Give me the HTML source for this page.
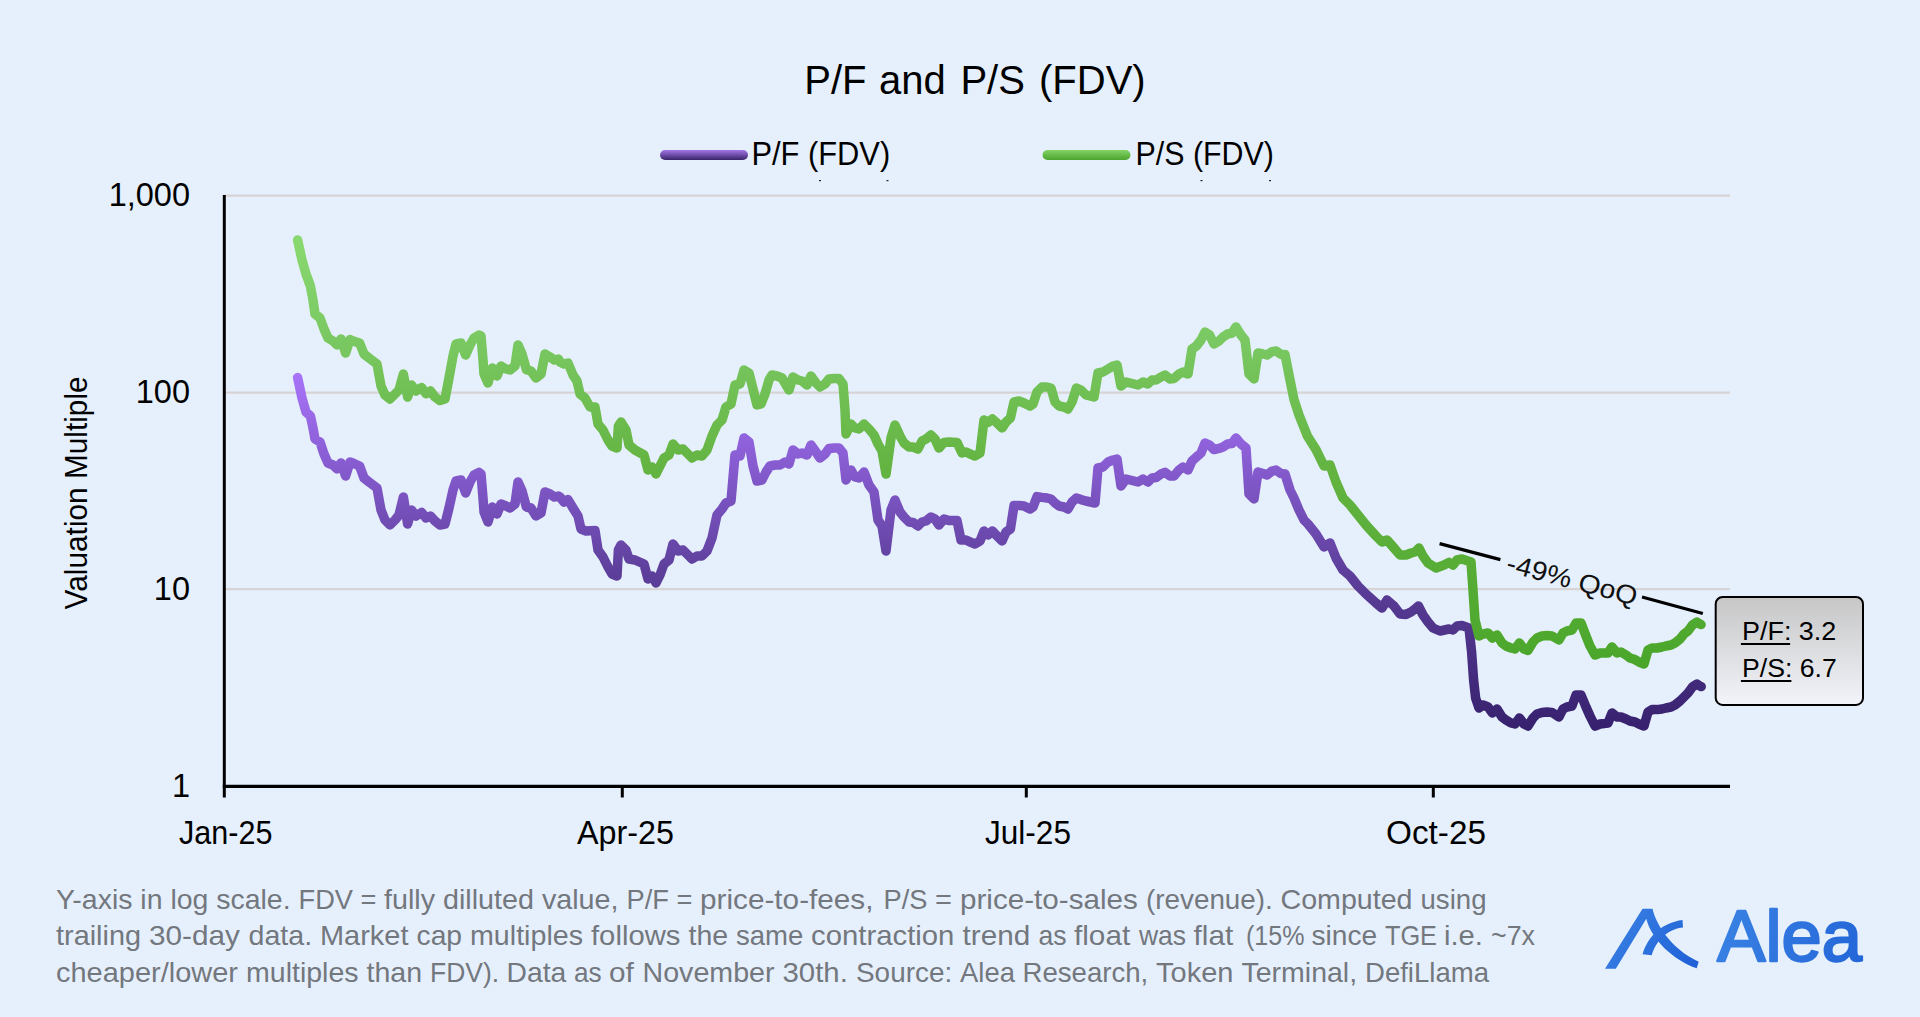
<!DOCTYPE html>
<html lang="en"><head><meta charset="utf-8"><title>P/F and P/S (FDV)</title>
<style>
html,body{margin:0;padding:0;background:#e6f0fc;}
body{width:1920px;height:1017px;overflow:hidden;}
svg{display:block;}
text{font-family:"Liberation Sans", sans-serif;}
</style></head><body>
<svg width="1920" height="1017" viewBox="0 0 1920 1017">
<defs>
<linearGradient id="gp" gradientUnits="userSpaceOnUse" x1="0" y1="373" x2="0" y2="733"><stop offset="0" stop-color="#a874f8"/><stop offset="0.186" stop-color="#9062dc"/><stop offset="0.547" stop-color="#5e409c"/><stop offset="1" stop-color="#36206c"/></linearGradient>
<linearGradient id="gg" gradientUnits="userSpaceOnUse" x1="0" y1="236" x2="0" y2="668"><stop offset="0" stop-color="#8ad870"/><stop offset="0.24" stop-color="#7ac862"/><stop offset="0.532" stop-color="#64b442"/><stop offset="0.935" stop-color="#4ea82e"/><stop offset="1" stop-color="#4aa52b"/></linearGradient>
<linearGradient id="lp" gradientUnits="userSpaceOnUse" x1="0" y1="150" x2="0" y2="160"><stop offset="0" stop-color="#a476e6"/><stop offset="1" stop-color="#38246a"/></linearGradient>
<linearGradient id="lg" gradientUnits="userSpaceOnUse" x1="0" y1="150" x2="0" y2="160"><stop offset="0" stop-color="#84d466"/><stop offset="1" stop-color="#4ca42e"/></linearGradient>
<linearGradient id="box" x1="0" y1="0" x2="0" y2="1"><stop offset="0" stop-color="#c6c6c6"/><stop offset="1" stop-color="#f2f4fa"/></linearGradient>
<linearGradient id="logo1" gradientUnits="userSpaceOnUse" x1="1610" y1="910" x2="1698" y2="966"><stop offset="0" stop-color="#3a82e4"/><stop offset="1" stop-color="#1f60d6"/></linearGradient>
<linearGradient id="logo" gradientUnits="userSpaceOnUse" x1="1716" y1="915" x2="1863" y2="960"><stop offset="0" stop-color="#3a82e4"/><stop offset="1" stop-color="#2366d8"/></linearGradient>
</defs>
<rect width="1920" height="1017" fill="#e6f0fc"/>

<text x="804.3" y="94.3" font-size="40" fill="#000">P/F</text>
<text x="878.9" y="94.3" font-size="40" fill="#000">and</text>
<text x="960.4" y="94.3" font-size="40" fill="#000">P/S</text>
<text x="1039" y="94.3" font-size="40" fill="#000">(FDV)</text>
<line x1="665" y1="155" x2="743" y2="155" stroke="url(#lp)" stroke-width="10" stroke-linecap="round"/>
<line x1="1047.5" y1="155" x2="1125.5" y2="155" stroke="url(#lg)" stroke-width="10" stroke-linecap="round"/>
<text x="751.4" y="164.5" font-size="33" fill="#000" textLength="138.8" lengthAdjust="spacingAndGlyphs">P/F (FDV)</text>
<text x="1135.6" y="164.5" font-size="33" fill="#000" textLength="138.3" lengthAdjust="spacingAndGlyphs">P/S (FDV)</text>
<rect x="819" y="180" width="2" height="1.2" fill="#222"/>
<rect x="886.5" y="180" width="2" height="1.2" fill="#222"/>
<rect x="1200.5" y="180" width="2" height="1.2" fill="#222"/>
<rect x="1269" y="180" width="2" height="1.2" fill="#222"/>
<line x1="224.3" y1="195.7" x2="1730" y2="195.7" stroke="#d7d4d5" stroke-width="2.2"/>
<line x1="224.3" y1="392.6" x2="1730" y2="392.6" stroke="#d7d4d5" stroke-width="2.2"/>
<line x1="224.3" y1="589.2" x2="1730" y2="589.2" stroke="#d7d4d5" stroke-width="2.2"/>
<text x="190" y="206" font-size="32.5" text-anchor="end" fill="#000">1,000</text>
<text x="190" y="403" font-size="32.5" text-anchor="end" fill="#000">100</text>
<text x="190" y="600" font-size="32.5" text-anchor="end" fill="#000">10</text>
<text x="190" y="797" font-size="32.5" text-anchor="end" fill="#000">1</text>
<text transform="translate(86.8 609.4) rotate(-90)" font-size="31" fill="#000" textLength="233" lengthAdjust="spacingAndGlyphs">Valuation Multiple</text>
<path d="M297.6 377.6 L302.0 398.0 L306.0 412.0 L310.4 416.0 L313.0 428.0 L315.0 439.0 L320.0 442.0 L324.0 454.0 L328.0 463.0 L333.0 465.0 L337.0 469.0 L341.0 463.0 L345.6 476.0 L350.0 462.0 L355.0 464.0 L359.6 466.0 L364.0 478.0 L369.0 482.0 L377.0 488.0 L381.0 510.0 L385.0 520.0 L390.0 525.0 L395.0 520.0 L399.0 515.0 L403.4 497.0 L407.6 524.0 L411.6 510.0 L416.0 516.0 L421.6 512.4 L426.0 518.0 L430.4 516.0 L435.0 521.0 L440.0 525.0 L445.0 524.0 L449.0 508.0 L453.0 490.0 L456.0 481.0 L461.0 480.0 L465.6 493.0 L470.0 482.0 L474.0 475.0 L479.0 472.4 L481.0 474.0 L483.0 498.0 L484.0 512.0 L488.0 522.0 L492.4 507.0 L497.0 514.0 L501.0 504.0 L506.0 506.0 L510.0 508.0 L515.0 504.0 L518.0 482.0 L522.0 491.0 L526.4 507.0 L531.0 508.0 L536.0 516.0 L541.0 513.0 L545.0 492.0 L550.0 494.0 L554.4 497.0 L558.4 496.0 L560.0 497.0 L564.0 502.0 L568.0 499.6 L573.0 508.0 L578.0 516.0 L581.0 529.0 L586.0 531.0 L595.0 530.6 L598.0 550.0 L603.0 557.0 L608.0 567.0 L612.0 574.0 L617.0 576.0 L618.4 550.0 L621.0 545.0 L626.0 550.0 L629.0 559.0 L635.0 560.0 L644.0 564.0 L648.0 579.0 L652.0 576.0 L656.0 583.0 L660.0 575.0 L664.0 564.0 L669.0 560.0 L673.0 544.0 L678.0 551.0 L683.0 550.0 L688.0 555.0 L692.0 559.0 L697.0 556.0 L702.0 556.0 L707.0 551.0 L712.0 538.0 L717.0 515.0 L722.0 509.0 L726.0 503.0 L731.0 501.0 L735.0 455.0 L740.0 456.0 L744.0 438.0 L749.0 442.0 L753.0 466.0 L757.0 481.0 L762.0 480.0 L766.0 472.0 L770.0 466.0 L775.0 465.0 L780.0 465.0 L785.0 462.0 L789.0 464.0 L793.0 450.0 L798.0 454.0 L802.0 453.0 L807.0 455.0 L811.0 445.0 L816.0 452.0 L820.0 458.0 L825.0 454.0 L829.0 448.4 L834.0 448.0 L839.0 448.0 L843.0 453.0 L846.0 480.0 L851.0 470.0 L855.0 477.0 L859.0 478.0 L864.0 472.0 L869.0 485.0 L874.0 492.0 L878.0 520.0 L882.0 526.0 L886.0 551.0 L891.0 510.0 L895.0 500.0 L900.0 512.0 L904.0 517.0 L909.0 522.0 L913.0 522.4 L918.0 526.0 L922.0 522.0 L926.0 521.0 L931.0 517.0 L935.0 519.0 L939.0 525.0 L944.0 519.0 L949.0 520.6 L957.0 520.6 L961.0 540.0 L966.0 540.0 L971.0 542.4 L975.0 544.0 L980.0 541.0 L984.0 531.0 L988.0 535.0 L992.4 531.0 L997.0 536.0 L1002.0 541.0 L1006.0 532.0 L1010.4 529.0 L1014.0 505.6 L1019.0 505.4 L1024.0 506.0 L1030.0 509.0 L1033.0 507.0 L1037.0 496.6 L1042.0 497.4 L1047.0 498.0 L1051.0 499.0 L1055.0 503.0 L1059.0 506.0 L1064.0 507.0 L1068.0 509.0 L1072.0 502.0 L1076.4 498.0 L1081.0 499.6 L1086.0 501.0 L1095.0 503.0 L1098.0 468.0 L1103.0 467.0 L1108.0 462.0 L1113.0 460.0 L1117.0 459.0 L1121.0 486.0 L1126.0 479.0 L1130.0 480.0 L1138.0 482.0 L1143.0 479.0 L1148.0 482.0 L1152.0 478.0 L1156.0 477.6 L1161.0 474.0 L1165.0 472.4 L1170.0 476.0 L1174.0 476.0 L1179.0 470.0 L1183.0 467.0 L1188.0 470.0 L1192.0 461.0 L1196.4 457.0 L1201.0 453.0 L1205.0 443.0 L1209.6 445.0 L1214.0 449.6 L1219.0 448.4 L1223.0 447.0 L1227.6 444.0 L1232.0 443.6 L1236.0 438.0 L1241.0 444.0 L1246.0 448.0 L1249.0 494.0 L1254.0 499.0 L1258.0 472.0 L1263.0 473.6 L1267.0 475.0 L1272.0 471.0 L1276.0 470.0 L1281.0 473.6 L1285.0 474.0 L1290.0 490.0 L1294.0 498.0 L1299.0 510.0 L1304.0 520.0 L1308.0 524.0 L1316.0 534.0 L1324.0 547.0 L1330.0 543.0 L1336.0 558.0 L1343.0 570.0 L1350.0 576.0 L1358.0 586.0 L1366.0 594.0 L1376.0 603.0 L1382.0 608.0 L1387.0 600.0 L1394.0 606.0 L1400.0 614.0 L1406.0 614.4 L1411.0 612.0 L1415.0 609.0 L1418.4 606.0 L1423.0 615.0 L1428.0 622.0 L1433.0 628.0 L1440.0 631.0 L1449.0 629.0 L1453.0 630.0 L1457.0 626.0 L1462.0 625.6 L1469.0 628.0 L1471.6 652.0 L1473.6 680.0 L1475.6 698.0 L1479.0 708.0 L1483.0 705.0 L1488.0 707.0 L1492.4 713.0 L1497.0 709.0 L1502.0 717.0 L1506.0 720.0 L1511.0 723.0 L1515.0 724.0 L1519.4 718.0 L1524.0 724.0 L1528.0 726.0 L1533.0 718.0 L1537.0 714.0 L1542.0 712.4 L1547.0 712.0 L1552.0 712.4 L1559.0 717.0 L1563.0 709.0 L1567.0 707.0 L1572.0 706.0 L1576.0 695.0 L1581.0 695.0 L1586.0 707.0 L1590.0 716.0 L1595.0 726.0 L1600.0 724.0 L1608.0 723.0 L1612.0 713.0 L1617.0 717.0 L1621.0 717.0 L1626.0 719.0 L1630.0 721.0 L1635.0 722.0 L1639.0 724.0 L1644.0 726.0 L1648.0 712.0 L1652.0 709.6 L1657.0 709.6 L1662.0 709.0 L1666.0 708.0 L1671.0 707.0 L1675.0 705.0 L1680.0 701.0 L1684.0 697.0 L1688.0 693.0 L1692.4 687.0 L1697.0 684.0 L1699.8 686.0 L1701.2 686.6" fill="none" stroke="url(#gp)" stroke-width="9.5" stroke-linecap="round" stroke-linejoin="round"/>
<path d="M297.6 240.0 L302.0 260.0 L306.0 274.0 L310.4 286.0 L313.0 300.0 L315.0 314.0 L320.0 318.0 L324.0 329.0 L328.0 338.0 L333.0 341.0 L337.0 345.0 L341.0 339.0 L345.6 353.0 L350.0 339.6 L355.0 341.6 L359.6 343.0 L364.0 354.0 L369.0 358.0 L377.0 364.0 L381.0 386.0 L385.0 395.0 L390.0 399.0 L395.0 394.0 L399.0 390.0 L403.4 374.0 L407.6 397.0 L411.6 385.0 L416.0 391.0 L421.6 387.6 L426.0 393.6 L430.4 391.0 L435.0 397.0 L440.0 400.6 L445.0 399.0 L449.0 378.0 L453.0 356.0 L456.0 344.0 L461.0 343.0 L465.6 355.0 L470.0 345.0 L474.0 338.0 L479.0 335.0 L481.0 336.0 L483.0 360.0 L484.0 374.0 L488.0 383.0 L492.4 368.0 L497.0 376.0 L501.0 366.0 L506.0 369.0 L510.0 370.0 L515.0 366.0 L518.0 345.0 L522.0 354.0 L526.4 369.6 L531.0 371.0 L536.0 378.0 L541.0 374.0 L545.0 354.0 L550.0 357.0 L554.4 360.0 L558.4 359.0 L560.0 362.0 L564.0 364.0 L568.0 363.0 L573.0 375.0 L577.0 381.0 L580.0 394.0 L585.0 398.0 L590.0 407.0 L595.0 407.0 L598.0 424.0 L603.0 430.0 L608.0 440.0 L612.0 446.0 L617.0 448.0 L618.4 426.0 L621.0 422.0 L626.0 430.0 L629.0 445.0 L635.0 450.0 L644.0 455.0 L648.0 470.0 L652.0 467.0 L656.0 474.0 L660.0 466.0 L664.0 458.0 L669.0 455.0 L673.0 444.0 L678.0 450.0 L683.0 449.0 L688.0 454.0 L692.0 458.0 L697.0 455.0 L702.0 456.0 L707.0 450.0 L712.0 436.0 L717.0 425.0 L722.0 420.0 L726.0 407.0 L731.0 404.0 L735.0 385.0 L740.0 384.0 L744.0 370.0 L749.0 373.0 L753.0 389.0 L757.0 405.0 L761.0 404.0 L765.0 394.0 L769.0 380.0 L772.0 375.0 L777.0 376.0 L782.0 378.0 L789.0 390.0 L793.0 377.0 L798.0 380.0 L802.0 381.0 L807.0 385.0 L811.0 376.0 L816.0 383.0 L820.0 387.0 L825.0 384.0 L829.0 379.0 L834.0 378.6 L839.0 378.6 L843.0 384.0 L845.0 410.0 L846.0 434.0 L851.0 424.0 L855.0 428.0 L859.0 429.0 L864.0 424.0 L869.0 429.0 L874.0 435.0 L878.0 444.0 L882.0 451.0 L886.0 474.0 L891.0 438.0 L895.0 425.0 L900.0 436.0 L904.0 443.0 L909.0 447.0 L913.0 447.0 L918.0 449.0 L922.0 441.0 L926.0 439.0 L931.0 435.0 L935.0 439.0 L939.0 448.0 L944.0 442.4 L949.0 442.0 L957.0 442.4 L962.0 453.0 L966.0 452.0 L971.0 454.4 L975.0 456.0 L980.0 453.0 L984.0 420.0 L988.0 422.4 L992.4 419.0 L997.0 423.0 L1002.0 428.0 L1006.0 422.0 L1010.4 418.0 L1014.0 402.0 L1019.0 401.0 L1024.0 403.0 L1030.0 406.0 L1033.0 404.0 L1037.0 392.0 L1042.0 387.0 L1047.0 387.0 L1051.0 388.0 L1055.0 402.0 L1059.0 406.0 L1064.0 407.0 L1068.0 409.0 L1072.0 402.0 L1076.4 388.0 L1081.0 390.0 L1086.0 395.0 L1094.0 397.0 L1098.0 373.0 L1103.0 372.0 L1108.0 369.0 L1113.0 366.0 L1117.0 365.0 L1121.0 386.0 L1126.0 382.0 L1130.0 383.0 L1138.0 385.0 L1143.0 382.0 L1148.0 384.0 L1152.0 380.0 L1156.0 380.0 L1161.0 377.0 L1165.0 375.0 L1170.0 379.0 L1174.0 378.6 L1179.0 374.0 L1183.0 372.0 L1188.0 374.0 L1192.0 349.0 L1196.4 346.0 L1201.0 340.0 L1205.0 332.0 L1209.6 335.0 L1214.0 344.0 L1219.0 341.0 L1223.0 337.0 L1227.6 334.0 L1232.0 333.0 L1236.0 327.0 L1241.0 335.0 L1245.0 340.0 L1249.0 374.0 L1254.0 379.0 L1258.0 353.0 L1263.0 354.0 L1267.0 355.0 L1272.0 351.6 L1276.0 351.0 L1281.0 354.4 L1285.0 354.4 L1290.0 380.0 L1294.0 399.6 L1299.0 415.0 L1301.0 420.0 L1307.4 436.0 L1316.0 449.6 L1324.0 466.0 L1330.0 465.0 L1336.0 482.0 L1343.0 498.0 L1350.0 505.0 L1358.0 515.0 L1366.0 525.0 L1376.0 536.0 L1382.0 542.0 L1387.0 540.0 L1394.0 548.0 L1400.0 555.0 L1406.0 555.0 L1411.0 553.0 L1415.0 552.0 L1419.0 548.0 L1423.0 556.0 L1428.0 563.0 L1436.0 568.0 L1444.0 565.0 L1449.0 562.4 L1453.0 565.0 L1457.0 560.0 L1462.0 559.0 L1471.0 562.0 L1473.0 590.0 L1475.0 620.0 L1479.0 636.0 L1483.0 634.0 L1488.0 633.0 L1492.4 638.0 L1497.0 635.0 L1502.0 643.0 L1506.0 646.0 L1511.0 648.0 L1515.0 649.0 L1519.4 643.0 L1524.0 649.0 L1528.0 650.4 L1533.0 642.0 L1537.0 638.0 L1542.0 636.0 L1547.0 635.6 L1552.0 636.0 L1559.0 640.0 L1563.0 633.0 L1567.0 631.0 L1572.0 630.0 L1576.0 623.0 L1581.0 623.0 L1586.0 636.0 L1590.0 646.0 L1595.0 655.0 L1600.0 653.0 L1608.0 653.0 L1612.0 647.0 L1617.0 653.0 L1621.0 652.0 L1626.0 655.0 L1630.0 658.0 L1635.0 659.6 L1639.0 662.0 L1644.0 664.0 L1648.0 650.0 L1652.0 648.0 L1657.0 648.0 L1662.0 647.0 L1666.0 646.0 L1671.0 645.0 L1675.0 643.0 L1680.0 639.0 L1684.0 634.0 L1688.0 631.0 L1692.4 625.0 L1697.0 622.0 L1699.8 624.0 L1701.0 624.6" fill="none" stroke="url(#gg)" stroke-width="9.5" stroke-linecap="round" stroke-linejoin="round"/>
<line x1="224.3" y1="195" x2="224.3" y2="797.5" stroke="#000" stroke-width="3"/>
<line x1="222.8" y1="786.4" x2="1730" y2="786.4" stroke="#000" stroke-width="3.3"/>
<line x1="622.3" y1="786.4" x2="622.3" y2="797.5" stroke="#000" stroke-width="3"/>
<line x1="1026.3" y1="786.4" x2="1026.3" y2="797.5" stroke="#000" stroke-width="3"/>
<line x1="1433.3" y1="786.4" x2="1433.3" y2="797.5" stroke="#000" stroke-width="3"/>
<text x="179" y="843.5" font-size="32.5" fill="#000" textLength="93.5" lengthAdjust="spacingAndGlyphs">Jan-25</text>
<text x="577" y="843.5" font-size="32.5" fill="#000" textLength="97" lengthAdjust="spacingAndGlyphs">Apr-25</text>
<text x="985" y="843.5" font-size="32.5" fill="#000" textLength="86" lengthAdjust="spacingAndGlyphs">Jul-25</text>
<text x="1386" y="843.5" font-size="32.5" fill="#000" textLength="100" lengthAdjust="spacingAndGlyphs">Oct-25</text>
<line x1="1439.6" y1="543.6" x2="1500.4" y2="559.6" stroke="#000" stroke-width="3.2"/>
<line x1="1642" y1="597" x2="1702.8" y2="613.5" stroke="#000" stroke-width="3.2"/>
<text transform="translate(1505 571.3) rotate(14.8)" font-size="26.5" fill="#111" textLength="134" lengthAdjust="spacingAndGlyphs">-49% QoQ</text>
<rect x="1715.7" y="596.9" width="147.3" height="108" rx="7" ry="7" fill="url(#box)" stroke="#000" stroke-width="2"/>
<text x="1742" y="640.4" font-size="26" fill="#000" textLength="94.3" lengthAdjust="spacingAndGlyphs">P/F: 3.2</text>
<text x="1742" y="677.3" font-size="26" fill="#000" textLength="94.8" lengthAdjust="spacingAndGlyphs">P/S: 6.7</text>
<line x1="1740.9" y1="644.1" x2="1790.1" y2="644.1" stroke="#000" stroke-width="2"/>
<line x1="1740.9" y1="680.9" x2="1791.4" y2="680.9" stroke="#000" stroke-width="2"/>
<text x="56" y="908.6" font-size="27.4" fill="#73777e" textLength="234.6" lengthAdjust="spacingAndGlyphs">Y-axis in log scale.</text>
<text x="298.5" y="908.6" font-size="27.4" fill="#73777e" textLength="77.9" lengthAdjust="spacingAndGlyphs">FDV =</text>
<text x="384" y="908.6" font-size="27.4" fill="#73777e" textLength="234.5" lengthAdjust="spacingAndGlyphs">fully dilluted value,</text>
<text x="626.5" y="908.6" font-size="27.4" fill="#73777e" textLength="65.9" lengthAdjust="spacingAndGlyphs">P/F =</text>
<text x="700" y="908.6" font-size="27.4" fill="#73777e" textLength="173.5" lengthAdjust="spacingAndGlyphs">price-to-fees,</text>
<text x="883.5" y="908.6" font-size="27.4" fill="#73777e" textLength="43.9" lengthAdjust="spacingAndGlyphs">P/S</text>
<text x="935" y="908.6" font-size="27.4" fill="#73777e" textLength="16.9" lengthAdjust="spacingAndGlyphs">=</text>
<text x="960" y="908.6" font-size="27.4" fill="#73777e" textLength="177.8" lengthAdjust="spacingAndGlyphs">price-to-sales</text>
<text x="1146" y="908.6" font-size="27.4" fill="#73777e" textLength="126.8" lengthAdjust="spacingAndGlyphs">(revenue).</text>
<text x="1280.5" y="908.6" font-size="27.4" fill="#73777e" textLength="132.0" lengthAdjust="spacingAndGlyphs">Computed</text>
<text x="1420.5" y="908.6" font-size="27.4" fill="#73777e" textLength="66.0" lengthAdjust="spacingAndGlyphs">using</text>
<text x="56" y="945.3" font-size="27.4" fill="#73777e" textLength="85.0" lengthAdjust="spacingAndGlyphs">trailing</text>
<text x="149" y="945.3" font-size="27.4" fill="#73777e" textLength="90.9" lengthAdjust="spacingAndGlyphs">30-day</text>
<text x="248.5" y="945.3" font-size="27.4" fill="#73777e" textLength="63.6" lengthAdjust="spacingAndGlyphs">data.</text>
<text x="320" y="945.3" font-size="27.4" fill="#73777e" textLength="88.5" lengthAdjust="spacingAndGlyphs">Market</text>
<text x="416.5" y="945.3" font-size="27.4" fill="#73777e" textLength="45.6" lengthAdjust="spacingAndGlyphs">cap</text>
<text x="470" y="945.3" font-size="27.4" fill="#73777e" textLength="113.0" lengthAdjust="spacingAndGlyphs">multiples</text>
<text x="591" y="945.3" font-size="27.4" fill="#73777e" textLength="89.4" lengthAdjust="spacingAndGlyphs">follows</text>
<text x="688.5" y="945.3" font-size="27.4" fill="#73777e" textLength="39.6" lengthAdjust="spacingAndGlyphs">the</text>
<text x="736" y="945.3" font-size="27.4" fill="#73777e" textLength="67.3" lengthAdjust="spacingAndGlyphs">same</text>
<text x="811" y="945.3" font-size="27.4" fill="#73777e" textLength="143.4" lengthAdjust="spacingAndGlyphs">contraction</text>
<text x="962.5" y="945.3" font-size="27.4" fill="#73777e" textLength="67.7" lengthAdjust="spacingAndGlyphs">trend</text>
<text x="1038.5" y="945.3" font-size="27.4" fill="#73777e" textLength="28.1" lengthAdjust="spacingAndGlyphs">as</text>
<text x="1074" y="945.3" font-size="27.4" fill="#73777e" textLength="56.2" lengthAdjust="spacingAndGlyphs">float</text>
<text x="1139" y="945.3" font-size="27.4" fill="#73777e" textLength="47.1" lengthAdjust="spacingAndGlyphs">was</text>
<text x="1193.5" y="945.3" font-size="27.4" fill="#73777e" textLength="39.7" lengthAdjust="spacingAndGlyphs">flat</text>
<text x="1246" y="945.3" font-size="27.4" fill="#73777e" textLength="58.5" lengthAdjust="spacingAndGlyphs">(15%</text>
<text x="1311.5" y="945.3" font-size="27.4" fill="#73777e" textLength="65.7" lengthAdjust="spacingAndGlyphs">since</text>
<text x="1385" y="945.3" font-size="27.4" fill="#73777e" textLength="52.0" lengthAdjust="spacingAndGlyphs">TGE</text>
<text x="1444" y="945.3" font-size="27.4" fill="#73777e" textLength="38.9" lengthAdjust="spacingAndGlyphs">i.e.</text>
<text x="1491" y="945.3" font-size="27.4" fill="#73777e" textLength="44.0" lengthAdjust="spacingAndGlyphs">~7x</text>
<text x="56" y="982.1" font-size="27.4" fill="#73777e" textLength="182.0" lengthAdjust="spacingAndGlyphs">cheaper/lower</text>
<text x="246" y="982.1" font-size="27.4" fill="#73777e" textLength="112.6" lengthAdjust="spacingAndGlyphs">multiples</text>
<text x="366.5" y="982.1" font-size="27.4" fill="#73777e" textLength="55.6" lengthAdjust="spacingAndGlyphs">than</text>
<text x="430" y="982.1" font-size="27.4" fill="#73777e" textLength="69.1" lengthAdjust="spacingAndGlyphs">FDV).</text>
<text x="506.5" y="982.1" font-size="27.4" fill="#73777e" textLength="59.7" lengthAdjust="spacingAndGlyphs">Data</text>
<text x="574" y="982.1" font-size="27.4" fill="#73777e" textLength="27.7" lengthAdjust="spacingAndGlyphs">as</text>
<text x="609" y="982.1" font-size="27.4" fill="#73777e" textLength="24.8" lengthAdjust="spacingAndGlyphs">of</text>
<text x="642.5" y="982.1" font-size="27.4" fill="#73777e" textLength="132.0" lengthAdjust="spacingAndGlyphs">November</text>
<text x="782.5" y="982.1" font-size="27.4" fill="#73777e" textLength="65.3" lengthAdjust="spacingAndGlyphs">30th.</text>
<text x="856" y="982.1" font-size="27.4" fill="#73777e" textLength="96.2" lengthAdjust="spacingAndGlyphs">Source:</text>
<text x="960" y="982.1" font-size="27.4" fill="#73777e" textLength="54.9" lengthAdjust="spacingAndGlyphs">Alea</text>
<text x="1022.5" y="982.1" font-size="27.4" fill="#73777e" textLength="125.8" lengthAdjust="spacingAndGlyphs">Research,</text>
<text x="1156" y="982.1" font-size="27.4" fill="#73777e" textLength="77.4" lengthAdjust="spacingAndGlyphs">Token</text>
<text x="1241.5" y="982.1" font-size="27.4" fill="#73777e" textLength="115.6" lengthAdjust="spacingAndGlyphs">Terminal,</text>
<text x="1365" y="982.1" font-size="27.4" fill="#73777e" textLength="124.0" lengthAdjust="spacingAndGlyphs">DefiLlama</text>
<path fill="url(#logo1)" d="M1605.0 968.7 L1642.5 908.7 L1652.5 908.7 C1655.8 923.3 1670.0 948.3 1698.7 961.7 L1696.7 968.3 C1673.3 960.0 1651.7 940.0 1646.3 918.7 L1615.8 968.7 Z M1642.5 954.2 C1648.3 935.0 1663.3 922.5 1682.5 920.0 L1683.0 927.5 C1670.0 928.7 1656.7 938.3 1651.7 955.3 Z"/>
<text x="1717.3" y="960.6" font-size="71.6" fill="url(#logo)" stroke="url(#logo)" stroke-width="2.4" stroke-linejoin="round" textLength="144.5" lengthAdjust="spacingAndGlyphs">Alea</text>
</svg></body></html>
